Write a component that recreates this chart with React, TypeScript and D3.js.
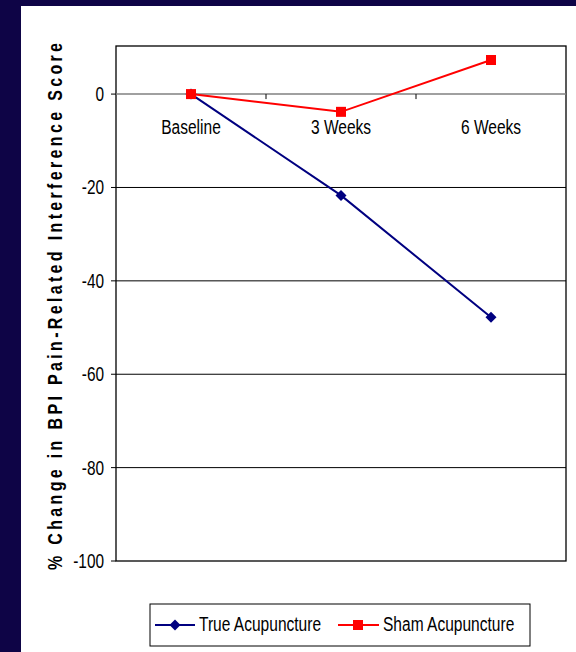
import React from "react";
import * as d3 from "d3";

const categories = ["Baseline", "3 Weeks", "6 Weeks"];
const trueAcupuncture = [0, -21.7, -47.8];
const shamAcupuncture = [0, -3.8, 7.3];
const yTicks = [0, -20, -40, -60, -80, -100];
const seriesNames = ["True Acupuncture", "Sham Acupuncture"];
const yTitle = "% Change in BPI Pain-Related Interference Score";

const W = 576;
const H = 652;
const plot = { left: 116, top: 46, right: 566, bottom: 561 };
const FONT = "'Liberation Sans', Arial, sans-serif";
const SX = 0.74;

function NText(props: {
  x: number;
  y: number;
  size: number;
  anchor?: "start" | "middle" | "end";
  sx?: number;
  children: React.ReactNode;
}) {
  const { x, y, size, anchor = "start", sx = SX, children } = props;
  return (
    <text
      transform={`translate(${x},${y}) scale(${sx},1)`}
      textAnchor={anchor}
      fontSize={size}
      fill="#000"
    >
      {children}
    </text>
  );
}

export default function App() {
  const x = d3.scaleBand<string>().domain(categories).range([plot.left, plot.right]).padding(0);
  const y = d3.scaleLinear().domain([-100, 10.3]).range([plot.bottom, plot.top]);
  const cx = (c: string) => (x(c) as number) + x.bandwidth() / 2;
  const line = d3
    .line<number>()
    .x((_, i) => cx(categories[i]))
    .y((d) => y(d));
  const diamond = (px: number, py: number, r: number) =>
    `M${px},${py - r}L${px + r},${py}L${px},${py + r}L${px - r},${py}Z`;
  const y0 = y(0);
  const bounds = categories.slice(1).map((c) => x(c) as number);

  return (
    <svg
      width={W}
      height={H}
      style={{ position: "absolute", left: 0, top: 0, display: "block" }}
      fontFamily={FONT}
    >
      <rect x={0} y={0} width={W} height={H} fill="#0e0446" />
      <rect x={21} y={6} width={W - 21} height={H - 6} fill="#ffffff" />

      {/* gridlines */}
      {yTicks.filter((t) => t !== 0 && t !== -100).map((t) => (
        <line key={t} x1={plot.left} x2={plot.right} y1={y(t)} y2={y(t)} stroke="#000" strokeWidth={1} />
      ))}
      {/* plot border */}
      <rect
        x={plot.left}
        y={plot.top}
        width={plot.right - plot.left}
        height={plot.bottom - plot.top}
        fill="none"
        stroke="#000"
        strokeWidth={1.3}
      />
      {/* category axis at zero */}
      <line x1={plot.left} x2={plot.right} y1={y0} y2={y0} stroke="#808080" strokeWidth={1.5} />
      {bounds.map((b, i) => (
        <line key={i} x1={b} x2={b} y1={y0} y2={y0 + 5} stroke="#000" strokeWidth={1} />
      ))}
      {categories.map((c) => (
        <NText key={c} x={cx(c)} y={y0 + 39.5} size={21} anchor="middle">
          {c}
        </NText>
      ))}

      {/* y ticks */}
      {yTicks.map((t) => (
        <g key={t}>
          <line x1={plot.left - 5} x2={plot.left} y1={y(t)} y2={y(t)} stroke="#000" strokeWidth={1} />
          <NText x={104} y={y(t) + 7} size={20} anchor="end" sx={0.77}>
            {t}
          </NText>
        </g>
      ))}

      {/* y title */}
      <text
        transform={`translate(62, ${306.5}) rotate(-90) scale(0.8,1)`}
        textAnchor="middle"
        fontSize={20}
        fontWeight="bold"
        textLength={527 / 0.8}
        lengthAdjust="spacing"
        fill="#000"
      >
        {yTitle}
      </text>

      {/* series */}
      <path d={line(trueAcupuncture) || ""} fill="none" stroke="#000080" strokeWidth={2} />
      <path d={line(shamAcupuncture) || ""} fill="none" stroke="#ff0000" strokeWidth={2} />
      {trueAcupuncture.map((v, i) => (
        <path key={"t" + i} d={diamond(cx(categories[i]), y(v), 5.5)} fill="#000080" />
      ))}
      {shamAcupuncture.map((v, i) => (
        <rect key={"s" + i} x={cx(categories[i]) - 5} y={y(v) - 5} width={10} height={10} fill="#ff0000" />
      ))}

      {/* legend */}
      <rect x={150} y={604} width={380} height={42} fill="#fff" stroke="#000" strokeWidth={1} />
      <line x1={155} x2={195} y1={625} y2={625} stroke="#000080" strokeWidth={2} />
      <path d={diamond(175, 625, 5.5)} fill="#000080" />
      <NText x={199} y={631} size={21}>
        {seriesNames[0]}
      </NText>
      <line x1={338} x2={379} y1={625} y2={625} stroke="#ff0000" strokeWidth={2} />
      <rect x={353} y={620} width={10} height={10} fill="#ff0000" />
      <NText x={383} y={631} size={21}>
        {seriesNames[1]}
      </NText>
    </svg>
  );
}
